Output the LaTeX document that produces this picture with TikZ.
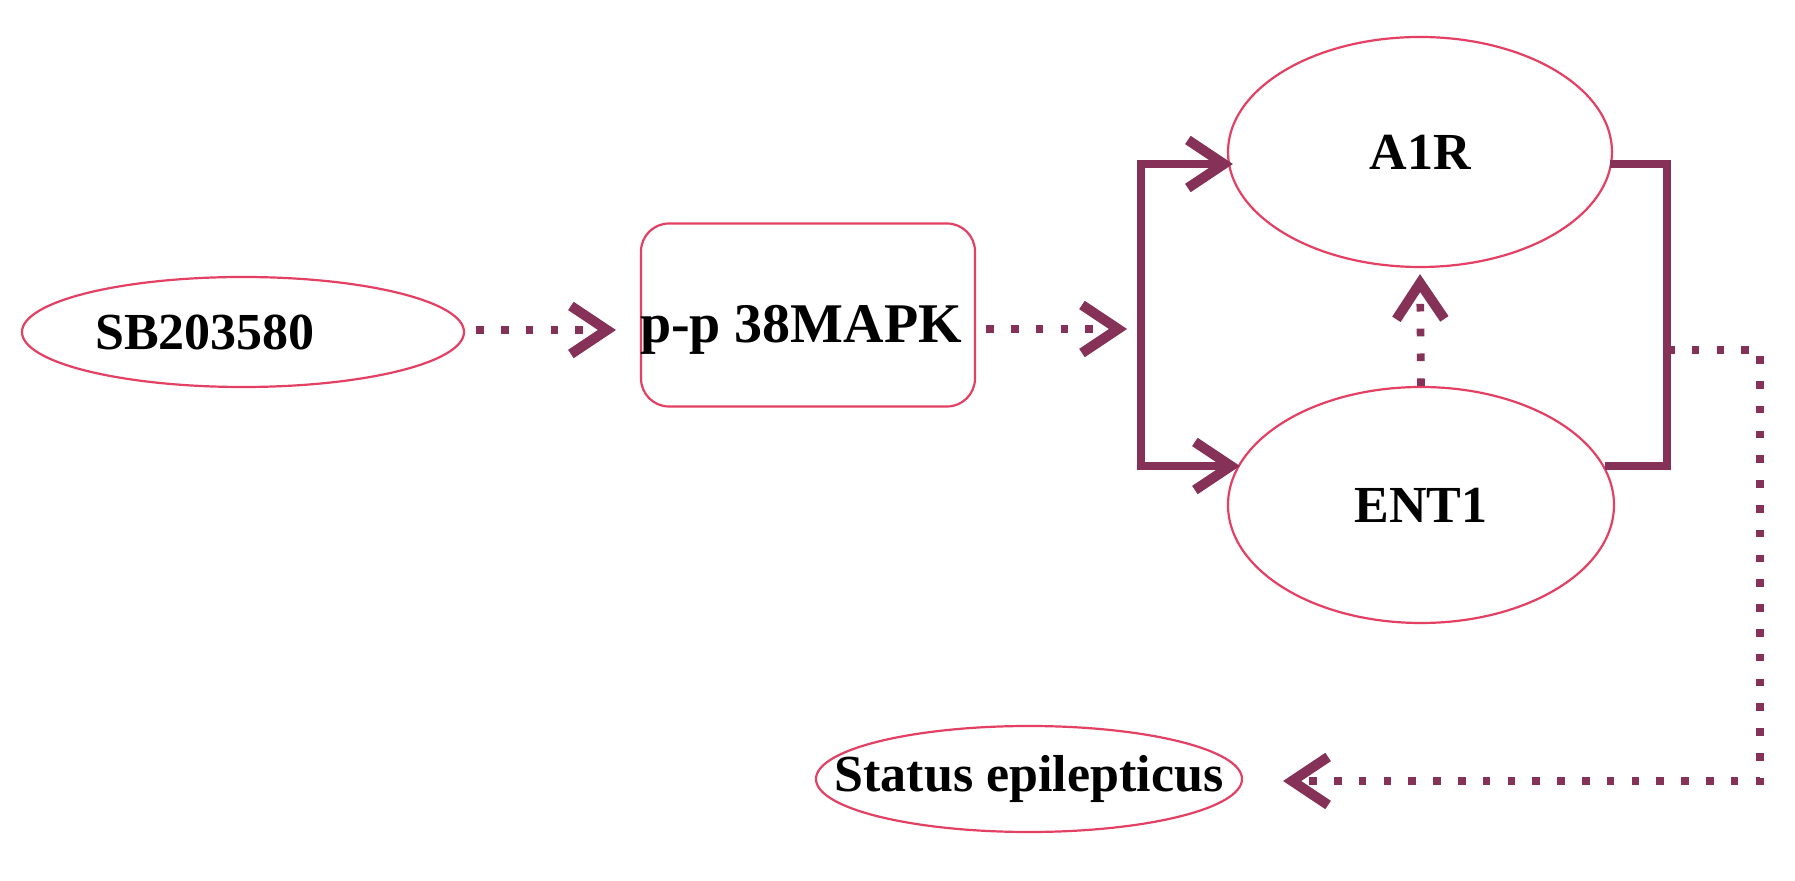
\documentclass[tikz,border=0pt]{standalone}
\usepackage{fontspec}
\setmainfont{Liberation Serif}
\usetikzlibrary{shapes.geometric,arrows.meta,calc}
\definecolor{edgered}{RGB}{228,64,100}
\definecolor{arrowc}{RGB}{134,50,88}
\begin{document}
\begin{tikzpicture}[x=0.5pt,y=-0.5pt,
  txt/.style={font=\bfseries\fontsize{26}{30}\selectfont,text=black},
  oval/.style={ellipse,draw=edgered,line width=1.1pt,inner sep=0pt,txt},
  boxnode/.style={rectangle,rounded corners=14pt,draw=edgered,line width=1.1pt,inner sep=0pt},
  solidline/.style={draw=arrowc,line width=4pt},
  dotline/.style={draw=arrowc,line width=3.8pt,dash pattern=on 3.8pt off 8.6pt},
  chev/.style={-{Straight Barb[length=18pt,width=24pt,line width=5pt]}},
  chevboth/.style={{Straight Barb[length=18pt,width=24pt,line width=5pt]}-{Straight Barb[length=18pt,width=24pt,line width=5pt]}}
]
\fill[white] (0,0) rectangle (1795,881);
\useasboundingbox (0,0) rectangle (1795,881);

% nodes
\node[oval,minimum width=221pt,minimum height=55pt] (sb) at (243,332) {\makebox[0pt]{SB203580\kern38pt}};
\node[boxnode,minimum width=167pt,minimum height=91.5pt] (mapk) at (808,315) {};
\node[txt,font=\bfseries\fontsize{28}{30}\selectfont] (mapkt) at (801,330) {p-p 38MAPK};
\node[oval,minimum width=192pt,minimum height=115pt] (a1r) at (1420,152) {A1R};
\node[oval,minimum width=193pt,minimum height=118pt] (ent1) at (1421,505) {ENT1};
\node[oval,minimum width=213pt,minimum height=53pt] (se) at (1029,779) {\makebox[0pt]{Status epilepticus}};

% junction coordinates
\coordinate (lt) at (1141,164);
\coordinate (lbm) at (1141,329);
\coordinate (lb) at (1141,466);
\coordinate (rt) at (1667,164);
\coordinate (rj) at (1667,350);
\coordinate (rb) at (1667,466);
\coordinate (c1) at (1760,350);
\coordinate (c2) at (1760,781);

% dotted arrows
\draw[dotline,chev] ($(sb.east)+(11,-2)$) -- ($(sb.east -| mapk.west)+(-24,-2)$);
\draw[dotline,chev] ($(mapk.east)+(10,14)$) -- ($(lbm)+(-14,0)$);
\draw[dotline,chev] (ent1.north) -- ($(a1r.south)+(0,6)$);
\draw[dotline,chev] (rj) -- (c1) -- (c2) -- ($(se.east)+(40,2)$);

% solid brackets
\draw[solidline,chevboth] ($(a1r.west)+(6,12)$) -- (lt) -- (lb) -- ($(ent1.west)+(13,-39)$);
\draw[solidline] ($(a1r.east)+(-3,12)$) -- (rt) -- (rb) -- ($(ent1.east)+(-10,-39)$);
\end{tikzpicture}
\end{document}
